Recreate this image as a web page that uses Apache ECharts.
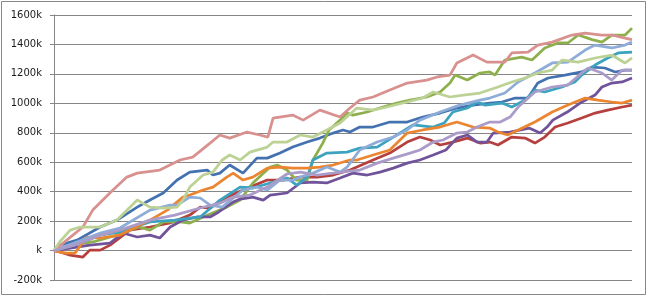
<!DOCTYPE html>
<html>
<head>
<meta charset="utf-8">
<script src="https://cdn.jsdelivr.net/npm/echarts@6/dist/echarts.min.js"></script>
<style>
html,body{margin:0;padding:0;background:#fff;}
#chart{width:647px;height:296px;}
</style>
</head>
<body>
<div id="chart"></div>
<script>
// y tick labels (thousands)
const yTicks = [-200, 0, 200, 400, 600, 800, 1000, 1200, 1400, 1600];

// series values: [step (0-100), value in k]
const blueData = [[0,0],[1.0,37],[4.0,71],[8.0,160],[10.9,207],[14.4,295],[16.6,343],[18.9,391],[21.3,479],[23.5,533],[26.5,547],[27.5,513],[28.7,526],[30.4,581],[32.7,526],[35.1,628],[36.9,628],[39.1,662],[41.3,703],[43.8,737],[46.0,764],[48.3,798],[50.0,819],[51.2,805],[52.9,839],[55.2,839],[58.1,873],[61.1,873],[63.8,907],[66.8,934],[69.7,968],[72.5,988],[75.4,1002],[77.5,1009],[79.8,1036],[82.0,1036],[83.7,1138],[85.5,1172],[88.4,1192],[91.3,1213],[93.1,1246],[95.3,1240],[97.1,1213],[98.8,1226],[100,1226]];
const redData = [[0,0],[1.0,-10],[2.8,-31],[5.0,-44],[6.2,3],[8.0,3],[9.7,37],[13.1,139],[16.6,160],[20.1,187],[23.5,241],[25.3,295],[27.0,289],[29.9,363],[33.9,431],[36.9,479],[39.6,479],[42.6,499],[45.5,499],[48.3,513],[51.2,547],[52.4,567],[55.2,615],[58.1,662],[61.1,737],[63.3,771],[65.1,751],[66.8,717],[69.0,737],[71.5,764],[73.7,730],[75.4,737],[76.8,717],[79.2,771],[81.5,764],[83.2,730],[84.9,771],[86.7,839],[88.9,866],[91.3,900],[93.6,934],[95.8,954],[98.3,975],[100,988]];
const greenData = [[0,0],[3.5,40],[6.9,60],[10.4,100],[13.1,139],[14.7,160],[16.6,139],[18.9,194],[21.8,194],[23.5,187],[26.6,241],[29.9,295],[32.2,343],[34.4,459],[37.4,567],[38.6,581],[40.3,547],[41.9,479],[43.8,479],[44.8,615],[46.5,730],[47.6,819],[49.5,886],[50.7,934],[51.7,920],[54.2,941],[56.9,975],[59.3,1002],[61.6,1022],[64.5,1043],[66.8,1077],[68.5,1138],[69.4,1192],[71.5,1158],[73.7,1206],[75.4,1213],[76.3,1192],[78.0,1294],[80.9,1314],[82.7,1294],[84.9,1376],[87.2,1410],[88.9,1410],[90.7,1464],[93.1,1433],[94.8,1416],[96.5,1464],[98.8,1464],[100,1511]];
const purpleData = [[0,0],[2.8,17],[6.2,37],[9.7,51],[11.9,119],[14.4,92],[16.6,105],[18.3,85],[20.1,160],[22.3,207],[24.7,228],[27.0,228],[28.2,255],[31.0,330],[32.2,350],[34.4,363],[36.2,343],[37.4,377],[40.3,391],[42.6,459],[44.8,465],[47.2,459],[49.5,493],[51.7,526],[54.2,513],[56.4,533],[58.7,560],[61.1,594],[63.3,615],[65.6,649],[67.8,683],[69.7,764],[71.5,785],[73.2,737],[74.9,737],[76.0,798],[78.9,805],[82.2,832],[84.1,798],[85.3,839],[86.3,886],[88.8,941],[91.0,1002],[93.6,1056],[94.8,1111],[96.5,1138],[98.3,1145],[100,1172]];
const aquaData = [[0,0],[3.5,37],[8.0,105],[11.4,126],[16.6,194],[20.9,207],[25.3,228],[28.7,343],[32.2,431],[34.4,425],[37.4,459],[40.3,493],[42.0,445],[43.8,499],[44.8,615],[47.2,662],[50.7,669],[52.9,696],[55.9,703],[58.7,771],[62.1,853],[65.6,839],[67.5,866],[69.0,941],[71.5,968],[73.2,1009],[74.6,988],[77.5,1002],[79.2,975],[81.5,1022],[83.2,1090],[84.9,1077],[87.9,1111],[90.1,1145],[91.3,1192],[93.6,1260],[95.8,1308],[97.6,1342],[100,1348]];
const orangeData = [[0,0],[1.0,-10],[2.2,-17],[3.6,-17],[5.7,92],[8.0,85],[11.4,105],[16.6,207],[19.6,275],[22.3,363],[23.5,377],[25.8,411],[27.5,431],[29.9,499],[31.0,526],[32.7,479],[34.4,499],[36.9,560],[39.1,567],[41.3,560],[43.8,560],[46.0,567],[48.3,581],[51.2,615],[52.4,615],[55.2,649],[58.1,683],[61.1,798],[63.8,819],[66.8,839],[69.7,873],[72.5,839],[75.4,832],[76.8,805],[78.5,785],[80.3,819],[83.2,873],[86.2,941],[88.9,988],[91.9,1036],[94.1,1022],[96.5,1009],[98.3,1002],[100,1022]];
const lightBlueData = [[0,0],[3.5,51],[8.0,119],[11.4,153],[16.6,275],[20.1,309],[21.3,309],[23.5,363],[25.3,357],[27.0,309],[29.1,295],[32.7,411],[35.1,431],[36.9,411],[39.1,479],[41.3,479],[42.6,499],[44.8,526],[47.2,567],[49.5,533],[50.7,567],[52.9,683],[55.9,737],[58.7,771],[61.1,819],[63.3,886],[66.8,941],[70.2,988],[73.7,1022],[75.4,1036],[78.0,1070],[80.3,1145],[83.2,1206],[86.2,1274],[88.9,1280],[91.9,1362],[93.6,1396],[96.5,1376],[98.8,1396],[100,1416]];
const pinkData = [[0,0],[2.2,71],[5.0,160],[6.7,275],[10.2,411],[12.6,499],[14.4,526],[18.3,547],[21.8,615],[24.0,635],[27.0,730],[28.7,785],[30.4,764],[33.4,805],[35.6,785],[37.0,771],[37.9,900],[41.3,920],[43.1,886],[46.0,954],[49.5,907],[51.2,968],[52.9,1022],[55.2,1043],[58.1,1090],[61.1,1138],[64.5,1158],[66.3,1179],[68.5,1192],[69.7,1274],[72.5,1328],[74.9,1280],[78.0,1280],[79.2,1342],[82.0,1348],[83.7,1396],[86.2,1416],[89.6,1464],[91.9,1477],[94.8,1464],[96.5,1464],[98.8,1443],[100,1433]];
const lightGreenData = [[0,0],[1.0,60],[2.8,139],[4.5,160],[8.0,160],[10.9,207],[14.4,343],[16.6,295],[18.9,289],[21.3,295],[22.3,343],[23.5,431],[25.8,513],[27.5,533],[29.1,615],[30.4,649],[32.2,615],[33.9,669],[36.9,703],[37.9,737],[40.3,737],[42.6,785],[44.8,771],[47.2,819],[49.5,866],[52.4,968],[55.2,954],[57.6,975],[61.1,1009],[63.8,1036],[65.6,1077],[68.5,1043],[70.8,1056],[73.7,1070],[76.8,1111],[79.2,1145],[81.5,1172],[83.7,1206],[86.2,1226],[87.9,1294],[90.7,1280],[93.6,1308],[96.5,1328],[98.8,1274],[100,1308]];
const lightPurpleData = [[0,0],[3.5,37],[8.0,105],[11.4,139],[16.6,207],[20.9,241],[25.3,289],[28.7,322],[31.0,363],[33.9,377],[36.9,431],[40.3,520],[42.6,533],[45.5,513],[48.3,526],[51.2,540],[52.9,547],[55.9,594],[58.7,628],[61.6,662],[63.3,683],[65.6,737],[67.3,751],[69.7,798],[71.5,805],[73.2,839],[75.4,873],[77.2,873],[78.9,907],[80.3,975],[83.2,1077],[86.2,1111],[88.9,1124],[91.3,1206],[92.4,1240],[94.8,1206],[96.5,1158],[98.3,1226],[100,1226]];

const seriesList = [
  {name:'S1', data: blueData, color:'#4472B0'},
  {name:'S2', data: redData, color:'#B5403D'},
  {name:'S3', data: greenData, color:'#8DB04C'},
  {name:'S4', data: purpleData, color:'#71539A'},
  {name:'S5', data: aquaData, color:'#3BA3BF'},
  {name:'S6', data: orangeData, color:'#EC8530'},
  {name:'S7', data: lightBlueData, color:'#8EACD8'},
  {name:'S8', data: pinkData, color:'#D8918F'},
  {name:'S9', data: lightGreenData, color:'#BCD295'},
  {name:'S10', data: lightPurpleData, color:'#AA9BC8'}
];

const chart = echarts.init(document.getElementById('chart'), null, {renderer:'canvas'});
chart.setOption({
  animation: false,
  backgroundColor: '#fff',
  graphic: [{
    type: 'rect', z: -10, silent: true,
    shape: {x: 1.5, y: 1.5, width: 644, height: 293},
    style: {fill: 'none', stroke: '#888888', lineWidth: 1}
  }],
  grid: {left: 54, right: 15, top: 15, bottom: 16, containLabel: false},
  xAxis: {
    type: 'value', min: 0, max: 100,
    axisLine: {show: false}, axisTick: {show: false},
    axisLabel: {show: false}, splitLine: {show: false}
  },
  yAxis: {
    type: 'value', min: yTicks[0], max: yTicks[yTicks.length-1], interval: 200,
    axisLine: {show: true, lineStyle: {color: '#868686', width: 1}},
    axisTick: {show: true, length: 4, lineStyle: {color: '#868686'}},
    splitLine: {show: true, lineStyle: {color: '#868686', width: 1}},
    axisLabel: {
      margin: 12, color: '#1a1a1a', fontFamily: 'DejaVu Sans', fontSize: 10,
      formatter: v => (v === 0 ? 'k' : v + 'k')
    }
  },
  series: seriesList.map(s => ({
    name: s.name, type: 'line', data: s.data, showSymbol: false, symbol: 'none',
    lineStyle: {color: s.color, width: 2.75}, itemStyle: {color: s.color},
    smooth: false
  }))
});
</script>
</body>
</html>
